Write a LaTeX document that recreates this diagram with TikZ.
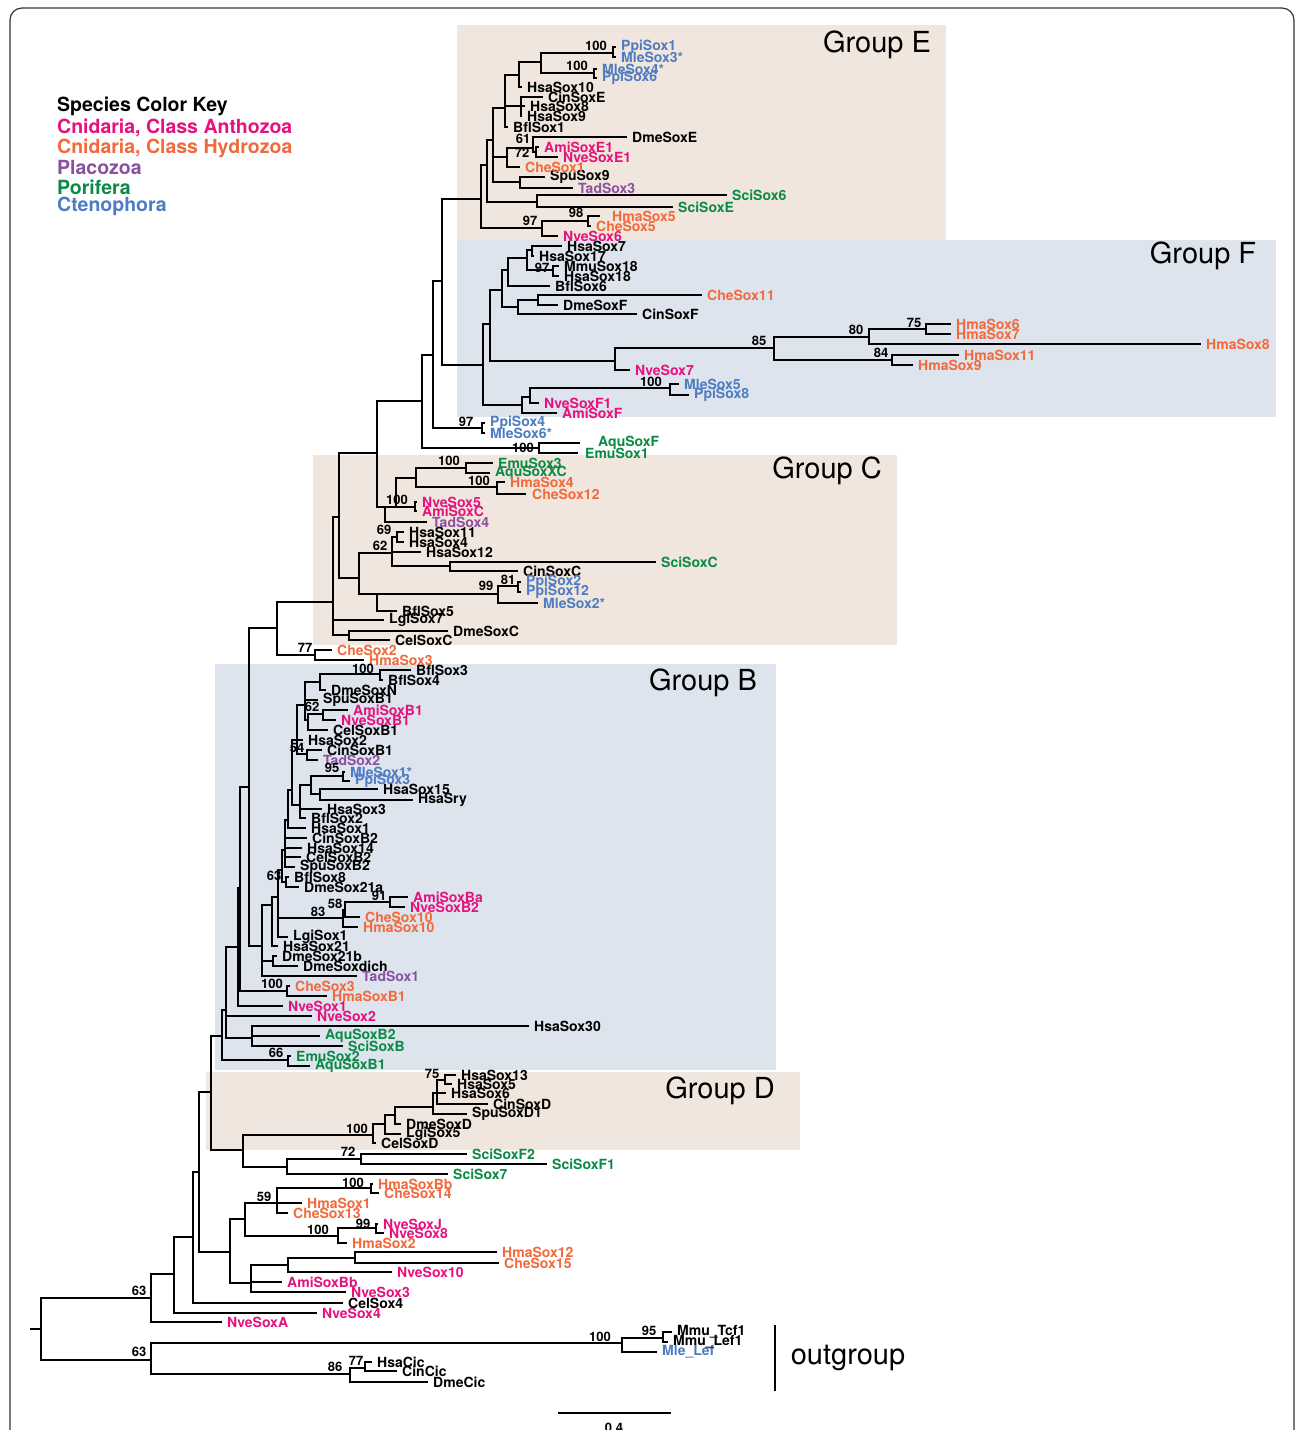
\documentclass[tikz,border=0pt]{standalone}
\usepackage{fontspec}
\setmainfont{TeX Gyre Heros}
\definecolor{anth}{HTML}{E5127D}
\definecolor{hydro}{HTML}{F26A3C}
\definecolor{plac}{HTML}{8C50A0}
\definecolor{pori}{HTML}{0B8A45}
\definecolor{cten}{HTML}{4D7CC2}
\definecolor{tanbg}{HTML}{F1E6DD}
\definecolor{bluebg}{HTML}{DEE4EE}
\newcommand\IN[4]{\coordinate (#1) at (#3,#4); \draw[br] (#2) |- (#1);}
\newcommand\LF[7][5]{\coordinate (#2) at (#4,#5); \draw[br] (#3) |- (#2); \node[lab,text=#6] (#2l) at ([xshift=#1pt]#2) {#7};}
\newcommand\BS[4]{\node[bs] (#1) at (#2,#3) {#4};}
\tikzset{
  br/.style={line width=1.4pt},
  lab/.style={font=\bfseries\fontsize{14}{14}\selectfont, inner sep=0pt, anchor=west},
  bs/.style={font=\bfseries\fontsize{13}{13}\selectfont, inner sep=0pt},
  grp/.style={font=\fontsize{29}{29}\selectfont, inner sep=0pt},
  key/.style={font=\bfseries\fontsize{19.5}{19.5}\selectfont, inner sep=0pt, anchor=west}
}
\begin{document}
\begin{tikzpicture}[x=1pt,y=-1pt]
\useasboundingbox (0,0) rectangle (1295,1430);
\fill[white] (0,0) rectangle (1295,1430);
% frame
\draw[line width=1.2pt, black!80, rounded corners=12pt] (10,1470) -- (10,8) -- (1294,8) -- (1294,1470);
% group boxes
\fill[tanbg] (457,25) rectangle (946,240);
\fill[bluebg] (457,240) rectangle (1276,417);
\fill[tanbg] (313,455) rectangle (897,645);
\fill[bluebg] (215,664) rectangle (776,1070);
\fill[tanbg] (206,1072) rectangle (800,1150);
\node[grp] (gE) at (877,45) {Group E};
\node[grp] (gF) at (1203,256) {Group F};
\node[grp] (gC) at (827,471) {Group C};
\node[grp] (gB) at (703,683) {Group B};
\node[grp] (gD) at (720,1091) {Group D};
% legend
\node[key] (k0) at (57,106) {Species Color Key};
\node[key,text=anth] (k1) at (57,128) {Cnidaria, Class Anthozoa};
\node[key,text=hydro] (k2) at (57,148) {Cnidaria, Class Hydrozoa};
\node[key,text=plac] (k3) at (57,167) {Placozoa};
\node[key,text=pori] (k4) at (57,187) {Porifera};
\node[key,text=cten] (k5) at (57,206) {Ctenophora};
% root
\coordinate (R0) at (30,1329);
\coordinate (R) at (41,1329);
\draw[br] (R0) -- (R);
\IN{A151}{R}{151}{1298}
\IN{B151}{R}{151}{1360}
\IN{A174}{A151}{174}{1274}
\LF{NveSoxA}{A151}{222}{1322}{anth}{NveSoxA}
\IN{A193}{A174}{193}{1237}
\LF{NveSox4}{A174}{317}{1313}{anth}{NveSox4}
\IN{A199}{A193}{199}{1172}
\LF{CelSox4}{A193}{343}{1303}{black}{CelSox4}
\IN{A211}{A199}{211}{1092}
\IN{A230}{A199}{230}{1252}
\IN{A222}{A211}{222}{1036}
\IN{D243}{A211}{243}{1150}
\IN{A226}{A222}{226}{1010}
\IN{A288}{A222}{288}{1060}
\LF{EmuSox2}{A288}{291}{1056}{pori}{EmuSox2}
\LF{AquSoxBone}{A288}{310}{1066}{pori}{AquSoxB1}
\IN{A238}{A226}{238}{947}
\LF{NveSoxtwo}{A226}{312}{1016}{anth}{NveSox2}
\IN{A252}{A226}{252}{1038}
\LF{HsaSoxthirty}{A252}{529}{1026}{black}{HsaSox30}
\LF{AquSoxBtwo}{A252}{320}{1036}{pori}{AquSoxB2}
\LF{SciSoxB}{A252}{343}{1046}{pori}{SciSoxB}
\IN{A240}{A238}{240}{888}
\LF{NveSoxone}{A238}{283}{1006}{anth}{NveSox1}
\IN{K249}{A240}{249}{787}
\IN{A287}{A240}{287}{991}
\LF{CheSoxthree}{A287}{290}{986}{hydro}{CheSox3}
\LF{HmaSoxBone}{A287}{327}{996}{hydro}{HmaSoxB1}
\IN{K277}{K249}{277}{628}
\IN{B262}{K249}{262}{946}
\IN{K333}{K277}{333}{602}
\IN{K315}{K277}{315}{655}
\LF{CheSoxtwo}{K315}{332}{650}{hydro}{CheSox2}
\LF{HmaSoxthree}{K315}{364}{660}{hydro}{HmaSox3}
\IN{K339}{K333}{339}{517}
\LF{LgiSoxseven}{K333}{384}{620}{black}{LgiSox7}
\IN{C349}{K333}{349}{635}
\LF{DmeSoxC}{C349}{448}{631}{black}{DmeSoxC}
\LF{CelSoxC}{C349}{390}{640}{black}{CelSoxC}
\IN{K376}{K339}{377}{453}
\IN{C359}{K339}{359}{578}
\IN{K422}{K376}{422}{401}
\IN{C385}{K376}{385}{507}
\IN{K433}{K422}{433}{355}
\IN{C539}{K422}{539}{448}
\LF[18]{AquSoxF}{C539}{580}{443}{pori}{AquSoxF}
\LF[7]{EmuSoxone}{C539}{578}{453}{pori}{EmuSox1}
\IN{K442}{K433}{442}{281}
\IN{C482}{K433}{482}{428}
\LF{PpiSoxfour}{C482}{485}{423}{cten}{PpiSox4}
\LF{MleSoxsix}{C482}{485}{433}{cten}{MleSox6*}
% ---- Group E
\IN{E481}{K442}{481}{199}
\IN{E487}{E481}{487}{165}
\IN{E542}{E481}{542}{228}
\IN{E493}{E487}{493}{140}
\IN{E537s}{E487}{537}{202}
\LF{SciSoxsix}{E537s}{727}{195}{pori}{SciSox6}
\LF{SciSoxE}{E537s}{673}{207}{pori}{SciSoxE}
\IN{E505}{E493}{505}{108}
\IN{E507}{E493}{507}{157}
\IN{E520}{E493}{520}{182}
\LF{SpuSoxnine}{E520}{545}{177}{black}{SpuSox9}
\LF{TadSoxthree}{E520}{573}{188}{plac}{TadSox3}
\IN{E519}{E505}{519}{75}
\IN{E521}{E505}{521}{106}
\LF{BflSoxone}{E505}{508}{127}{black}{BflSox1}
\IN{E541}{E519}{541}{62}
\LF{HsaSoxten}{E519}{522}{87}{black}{HsaSox10}
\IN{E613}{E541}{613}{53}
\IN{E594}{E541}{594}{73}
\LF{PpiSoxone}{E613}{616}{47}{cten}{PpiSox1}
\LF{MleSoxthree}{E613}{616}{57}{cten}{MleSox3*}
\LF{MleSoxfour}{E594}{597}{69}{cten}{MleSox4*}
\LF{PpiSoxsixE}{E594}{597}{78}{cten}{PpiSox6}
\LF{CinSoxE}{E521}{543}{97}{black}{CinSoxE}
\LF{HsaSoxeight}{E521}{525}{106}{black}{HsaSox8}
\LF{HsaSoxnine}{E521}{522}{116}{black}{HsaSox9}
\IN{E533}{E507}{533}{148}
\LF{CheSoxone}{E507}{520}{167}{hydro}{CheSox1}
\LF{DmeSoxE}{E533}{627}{137}{black}{DmeSoxE}
\IN{E536}{E533}{536}{152}
\LF{AmiSoxEone}{E536}{539}{147}{anth}{AmiSoxE1}
\LF{NveSoxEone}{E536}{558}{157}{anth}{NveSoxE1}
\IN{E588}{E542}{588}{221}
\LF{NveSoxsix}{E542}{558}{236}{anth}{NveSox6}
\LF[12]{HmaSoxfive}{E588}{600}{216}{hydro}{HmaSox5}
\LF{CheSoxfive}{E588}{591}{226}{hydro}{CheSox5}
% ---- Group F
\IN{F483}{K442}{483}{365}
\IN{F490}{F483}{490}{324}
\IN{F522}{F483}{522}{405}
\IN{F502}{F490}{502}{290}
\IN{F615}{F490}{615}{361}
\IN{F508}{F502}{508}{270}
\IN{F518}{F502}{518}{307}
\IN{F527}{F508}{527}{258}
\LF{BflSoxsix}{F508}{550}{286}{black}{BflSox6}
\IN{F532}{F527}{532}{250}
\IN{F553}{F527}{553}{270}
\LF{HsaSoxseven}{F532}{562}{246}{black}{HsaSox7}
\LF{HsaSoxseventeen}{F532}{534}{256}{black}{HsaSox17}
\LF{MmuSoxeighteen}{F553}{559}{266}{black}{MmuSox18}
\LF{HsaSoxeighteen}{F553}{559}{276}{black}{HsaSox18}
\IN{F538}{F518}{538}{300}
\LF{CinSoxF}{F518}{637}{314}{black}{CinSoxF}
\LF{CheSoxeleven}{F538}{702}{295}{hydro}{CheSox11}
\LF{DmeSoxF}{F538}{558}{305}{black}{DmeSoxF}
\IN{F774}{F615}{774}{348}
\LF{NveSoxseven}{F615}{630}{370}{anth}{NveSox7}
\IN{F869}{F774}{869}{337}
\IN{F892}{F774}{892}{360}
\IN{F926}{F869}{926}{329}
\LF{HmaSoxeight}{F869}{1201}{344}{hydro}{HmaSox8}
\LF{HmaSoxsix}{F926}{951}{324}{hydro}{HmaSox6}
\LF{HmaSoxsevenF}{F926}{951}{334}{hydro}{HmaSox7}
\LF{HmaSoxeleven}{F892}{959}{355}{hydro}{HmaSox11}
\LF{HmaSoxnine}{F892}{913}{365}{hydro}{HmaSox9}
\IN{F530}{F522}{530}{397}
\LF{AmiSoxF}{F522}{557}{413}{anth}{AmiSoxF}
\IN{F670}{F530}{670}{388}
\LF{NveSoxFone}{F530}{539}{403}{anth}{NveSoxF1}
\LF{MleSoxfive}{F670}{679}{384}{cten}{MleSox5}
\LF{PpiSoxeight}{F670}{689}{395}{cten}{PpiSox8}
% ---- Group C
\IN{C396}{C385}{396}{507}
\LF{TadSoxfour}{C385}{427}{522}{plac}{TadSox4}
\IN{C416}{C396}{416}{478}
\IN{C415}{C396}{415}{507}
\LF{NveSoxfive}{C415}{417}{502}{anth}{NveSox5}
\LF{AmiSoxC}{C415}{417}{511}{anth}{AmiSoxC}
\IN{C466}{C416}{466}{468}
\IN{C497}{C416}{497}{487}
\LF{EmuSoxthree}{C466}{493}{463}{pori}{EmuSox3}
\LF{AquSoxXC}{C466}{490}{473}{pori}{AquSoxXC}
\LF{HmaSoxfour}{C497}{505}{482}{hydro}{HmaSox4}
\LF[6]{CheSoxtwelve}{C497}{526}{494}{hydro}{CheSox12}
\IN{C392}{C359}{392}{553}
\IN{C377}{C359}{377}{594}
\IN{C397}{C392}{397}{537}
\LF{HsaSoxtwelve}{C392}{421}{552}{black}{HsaSox12}
\IN{C450}{C392}{450}{566}
\LF{HsaSoxeleven}{C397}{404}{532}{black}{HsaSox11}
\LF{HsaSoxfourC}{C397}{404}{542}{black}{HsaSox4}
\LF{SciSoxC}{C450}{656}{562}{pori}{SciSoxC}
\LF{CinSoxC}{C450}{518}{571}{black}{CinSoxC}
\IN{C498}{C377}{498}{594}
\LF{BflSoxfive}{C377}{397}{611}{black}{BflSox5}
\IN{C518}{C498}{518}{586}
\LF{MleSoxtwo}{C498}{538}{603}{cten}{MleSox2*}
\LF{PpiSoxtwo}{C518}{521}{582}{cten}{PpiSox2}
\LF{PpiSoxtwelve}{C518}{521}{592}{cten}{PpiSox12}
% ---- Group B
\IN{B272}{B262}{272}{905}
\IN{B273}{B262}{273}{961}
\LF{TadSoxone}{B262}{357}{976}{plac}{TadSox1}
\LF{DmeSoxtwentyoneb}{B273}{277}{956}{black}{DmeSox21b}
\LF{DmeSoxdich}{B273}{298}{966}{black}{DmeSoxdich}
\IN{B278}{B272}{278}{897}
\LF{HsaSoxtwentyone}{B272}{278}{946}{black}{HsaSox21}
\IN{B282}{B278}{282}{870}
\IN{B343}{B278}{343}{918}
\LF{LgiSoxone}{B278}{288}{937}{black}{LgiSox1}
\IN{B345}{B343}{345}{910}
\LF{HmaSoxten}{B343}{358}{927}{hydro}{HmaSox10}
\IN{B390}{B345}{390}{902}
\LF{CheSoxten}{B345}{360}{917}{hydro}{CheSox10}
\LF{AmiSoxBa}{B390}{408}{897}{anth}{AmiSoxBa}
\LF{NveSoxBtwo}{B390}{405}{907}{anth}{NveSoxB2}
\IN{B285}{B282}{285}{850}
\IN{B286}{B282}{286}{882}
\LF{BflSoxeight}{B286}{289}{877}{black}{BflSox8}
\LF{DmeSoxtwentyonea}{B286}{299}{887}{black}{DmeSox21a}
\IN{B288}{B285}{288}{820}
\LF{CinSoxBtwo}{B285}{307}{838}{black}{CinSoxB2}
\LF{HsaSoxfourteen}{B285}{302}{848}{black}{HsaSox14}
\LF{CelSoxBtwo}{B285}{301}{857}{black}{CelSoxB2}
\LF{SpuSoxBtwo}{B285}{295}{867}{black}{SpuSoxB2}
\IN{B292}{B288}{292}{790}
\LF{HsaSoxone}{B288}{306}{828}{black}{HsaSox1}
\IN{B297}{B292}{297}{740}
\IN{B300}{B292}{300}{805}
\IN{B311}{B300}{311}{785}
\LF{HsaSoxthree}{B300}{322}{809}{black}{HsaSox3}
\LF{BflSoxtwo}{B300}{306}{818}{black}{BflSox2}
\IN{B343b}{B311}{343}{776}
\IN{B320}{B311}{320}{794}
\LF{MleSoxone}{B343b}{345}{772}{cten}{MleSox1*}
\LF{PpiSoxthree}{B343b}{350}{781}{cten}{PpiSox3}
\LF{HsaSoxfifteen}{B320}{378}{789}{black}{HsaSox15}
\LF{HsaSry}{B320}{413}{800}{black}{HsaSry}
\IN{B305}{B297}{305}{705}
\LF{HsaSoxtwo}{B297}{303}{740}{black}{HsaSox2}
\IN{B307}{B297}{307}{754}
\LF{CinSoxBone}{B307}{322}{750}{black}{CinSoxB1}
\LF{TadSoxtwo}{B307}{318}{760}{plac}{TadSox2}
\IN{B320a}{B305}{320}{682}
\LF{SpuSoxBone}{B305}{318}{700}{black}{SpuSoxB1}
\IN{B308}{B305}{308}{720}
\IN{B380}{B320a}{380}{674}
\LF{DmeSoxN}{B320a}{326}{690}{black}{DmeSoxN}
\LF{BflSoxthree}{B380}{411}{670}{black}{BflSox3}
\LF{BflSoxfour}{B380}{383}{680}{black}{BflSox4}
\IN{B323}{B308}{323}{714}
\LF{CelSoxBone}{B308}{328}{730}{black}{CelSoxB1}
\LF{AmiSoxBone}{B323}{348}{710}{anth}{AmiSoxB1}
\LF{NveSoxBone}{B323}{336}{720}{anth}{NveSoxB1}
% ---- Group D
\IN{D373}{D243}{373}{1135}
\IN{D287}{D243}{287}{1167}
\IN{D385}{D373}{385}{1124}
\LF{CelSoxD}{D373}{376}{1143}{black}{CelSoxD}
\IN{D395}{D385}{395}{1115}
\LF{LgiSoxfive}{D385}{401}{1134}{black}{LgiSox5}
\IN{D433}{D395}{433}{1107}
\LF{DmeSoxD}{D395}{401}{1124}{black}{DmeSoxD}
\IN{D437}{D433}{437}{1093}
\LF{SpuSoxDone}{D433}{467}{1114}{black}{SpuSoxD1}
\IN{D445}{D437}{445}{1080}
\LF{HsaSoxsix}{D437}{446}{1093}{black}{HsaSox6}
\LF{CinSoxD}{D437}{488}{1104}{black}{CinSoxD}
\LF{HsaSoxthirteen}{D445}{456}{1075}{black}{HsaSox13}
\LF{HsaSoxfive}{D445}{452}{1084}{black}{HsaSox5}
\IN{D361}{D287}{361}{1159}
\LF{SciSoxseven}{D287}{448}{1174}{pori}{SciSox7}
\LF{SciSoxFtwo}{D361}{467}{1154}{pori}{SciSoxF2}
\LF{SciSoxFone}{D361}{547}{1164}{pori}{SciSoxF1}
% ---- lower clade
\IN{A245}{A230}{245}{1219}
\IN{A251}{A230}{251}{1283}
\IN{A277}{A245}{277}{1203}
\IN{A338}{A245}{338}{1236}
\IN{A371}{A277}{371}{1188}
\LF{HmaSoxone}{A277}{302}{1203}{hydro}{HmaSox1}
\LF{CheSoxthirteen}{A277}{288}{1213}{hydro}{CheSox13}
\LF{HmaSoxBb}{A371}{373}{1184}{hydro}{HmaSoxBb}
\LF{CheSoxfourteen}{A371}{379}{1193}{hydro}{CheSox14}
\IN{A376}{A338}{376}{1228}
\LF{HmaSoxtwo}{A338}{347}{1243}{hydro}{HmaSox2}
\LF{NveSoxJ}{A376}{378}{1224}{anth}{NveSoxJ}
\LF{NveSoxeight}{A376}{384}{1233}{anth}{NveSox8}
\IN{A288b}{A251}{288}{1265}
\LF{AmiSoxBb}{A251}{282}{1282}{anth}{AmiSoxBb}
\LF{NveSoxthree}{A251}{346}{1292}{anth}{NveSox3}
\IN{A355}{A288b}{355}{1258}
\LF{NveSoxten}{A288b}{392}{1272}{anth}{NveSox10}
\LF{HmaSoxtwelve}{A355}{497}{1252}{hydro}{HmaSox12}
\LF{CheSoxfifteen}{A355}{499}{1263}{hydro}{CheSox15}
% ---- outgroup
\IN{O622}{B151}{622}{1343}
\IN{O350}{B151}{350}{1374}
\IN{O663}{O622}{663}{1338}
\LF{MleLef}{O622}{657}{1352}{cten}{Mle\_Lef}
\LF{MmuTcfone}{O663}{672}{1332}{black}{Mmu\_Tcf1}
\LF{MmuLefone}{O663}{668}{1342}{black}{Mmu\_Lef1}
\IN{O365}{O350}{365}{1368}
\LF{DmeCic}{O350}{428}{1382}{black}{DmeCic}
\LF{HsaCic}{O365}{372}{1362}{black}{HsaCic}
\LF{CinCic}{O365}{397}{1371}{black}{CinCic}
% outgroup bar and scale
\coordinate (ogT) at (775,1325);
\coordinate (ogB) at (775,1391);
\draw[line width=1.4pt] (ogT) -- (ogB);
\node[grp] (og) at (848,1358) {outgroup};
\coordinate (scL) at (558,1413);
\coordinate (scR) at (671,1413);
\draw[line width=1.4pt] (scL) -- (scR);
\node[bs,anchor=north] (scl) at (614,1423) {0.4};
% bootstrap values
\BS{b1}{596}{46}{100}
\BS{b2}{577}{66}{100}
\BS{b3}{523}{139}{61}
\BS{b4}{522}{153}{72}
\BS{b5}{530}{221}{97}
\BS{b6}{576}{213}{98}
\BS{b7}{542}{268}{97}
\BS{b8}{759}{341}{85}
\BS{b9}{856}{330}{80}
\BS{b10}{914}{323}{75}
\BS{b11}{881}{353}{84}
\BS{b12}{651}{382}{100}
\BS{b13}{466}{422}{97}
\BS{b14}{523}{448}{100}
\BS{b15}{449}{461}{100}
\BS{b16}{479}{481}{100}
\BS{b17}{397}{500}{100}
\BS{b18}{384}{530}{69}
\BS{b19}{380}{546}{62}
\BS{b20}{486}{586}{99}
\BS{b21}{508}{580}{81}
\BS{b22}{305}{648}{77}
\BS{b23}{363}{669}{100}
\BS{b24}{312}{707}{62}
\BS{b25}{297}{748}{54}
\BS{b26}{332}{768}{95}
\BS{b27}{274}{876}{63}
\BS{b28}{379}{896}{91}
\BS{b29}{335}{904}{58}
\BS{b30}{318}{912}{83}
\BS{b31}{272}{984}{100}
\BS{b32}{276}{1053}{66}
\BS{b33}{432}{1074}{75}
\BS{b34}{357}{1129}{100}
\BS{b35}{348}{1152}{72}
\BS{b36}{353}{1183}{100}
\BS{b37}{264}{1197}{59}
\BS{b38}{318}{1230}{100}
\BS{b39}{363}{1224}{99}
\BS{b40}{139}{1291}{63}
\BS{b41}{139}{1352}{63}
\BS{b42}{600}{1337}{100}
\BS{b43}{649}{1331}{95}
\BS{b44}{335}{1367}{86}
\BS{b45}{356}{1361}{77}
\end{tikzpicture}
\end{document}
